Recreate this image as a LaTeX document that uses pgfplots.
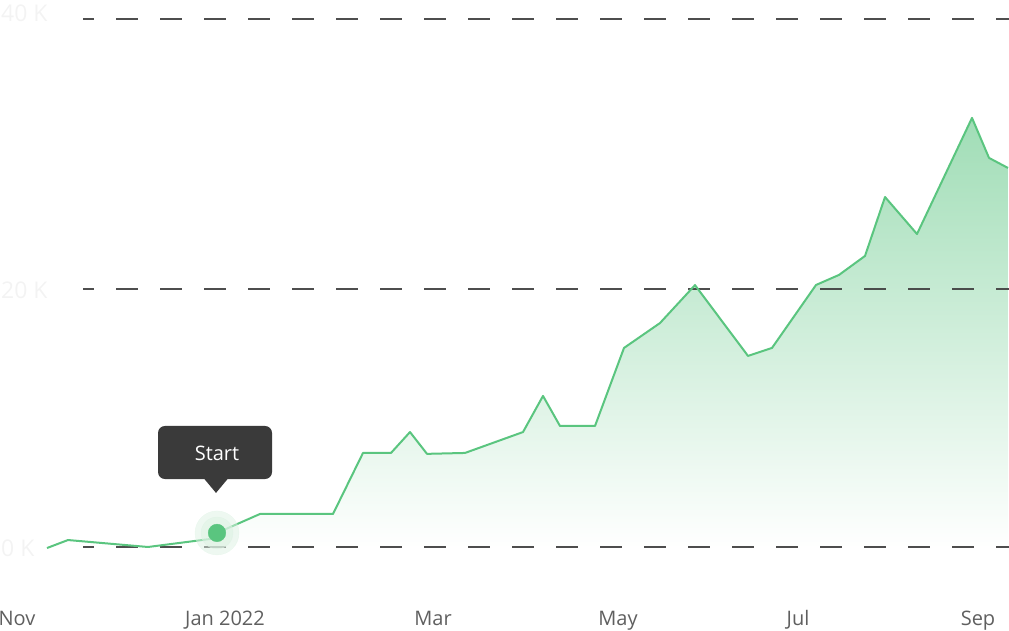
\documentclass[border=0pt]{standalone}
\usepackage{pgfplots}
\pgfplotsset{compat=1.18}
\usepackage{fontspec}
\setmainfont{Open Sans}
\definecolor{lineg}{RGB}{90,197,127}
\definecolor{fillg}{RGB}{160,221,182}
\definecolor{halo}{RGB}{222,242,228}
\definecolor{gridc}{RGB}{68,68,68}
\definecolor{tip}{RGB}{58,58,58}
\definecolor{xlab}{RGB}{95,95,95}
\definecolor{ylab}{RGB}{243,243,243}
\pgfplotstableread{
x y
47 -0.08
68 0.54
148 0.0
210 0.62
217 1.09
260 2.56
333 2.56
363 7.29
391 7.29
410 8.91
427 7.22
465 7.29
523 8.91
543 11.71
560 9.38
595 9.38
624 15.43
660 17.36
695 20.3
748 14.81
772 15.43
816 20.31
839 21.09
865 22.56
885 27.13
917 24.26
972 33.26
989 30.16
1008 29.38
}\datatable
\begin{document}
\begin{tikzpicture}
\begin{axis}[
  name=ax,
  width=1009pt, height=630pt, scale only axis,
  xmin=0, xmax=1009, ymin=-6.434, ymax=42.40,
  axis line style={draw=none}, tick style={draw=none},
  clip=false,
  xtick={17,225,433,618,798,978},
  xticklabels={Nov,Jan 2022,Mar,May,Jul,Sep},
  xticklabel style={anchor=base, yshift=5pt, text=xlab, font=\fontsize{20}{24}\selectfont},
  ytick={0,20,41.47},
  yticklabels={0 K,20 K,40 K},
  yticklabel style={anchor=base west, inner sep=0pt, xshift=1pt, yshift=-10pt, text=ylab, font=\fontsize{23}{27}\selectfont},
]
\addplot[draw=none, top color=fillg, bottom color=white] table {\datatable} \closedcycle;
\foreach \yy in {0,20,40.93}{
  \edef\tmp{\noexpand\draw[gridc, opacity=0.95, line width=1.7pt, dash pattern=on 22pt off 22pt, dash phase=11pt] (axis cs:83,\yy) -- (axis cs:1009,\yy);}
  \tmp
}
\addplot[only marks, mark=*, mark size=22pt, color=halo, opacity=0.5] coordinates {(217,1.09)};
\addplot[only marks, mark=*, mark size=16pt, color=halo, opacity=0.6] coordinates {(217,1.09)};
\addplot[lineg, line width=2pt, line join=round] table {\datatable};
\addplot[only marks, mark=*, mark size=8.8pt, color=lineg] coordinates {(217,1.09)};
\fill[tip, rounded corners=7pt] (axis cs:158,9.38) rectangle (axis cs:272,5.27);
\fill[tip] (axis cs:203,5.4) -- (axis cs:229,5.4) -- (axis cs:216,4.19) -- cycle;
\node[text=white, font=\fontsize{20}{24}\selectfont] at (axis cs:217,7.29) {Start};
\end{axis}
\pgfresetboundingbox
\path (ax.south west) rectangle (ax.north east);
\end{tikzpicture}
\end{document}
